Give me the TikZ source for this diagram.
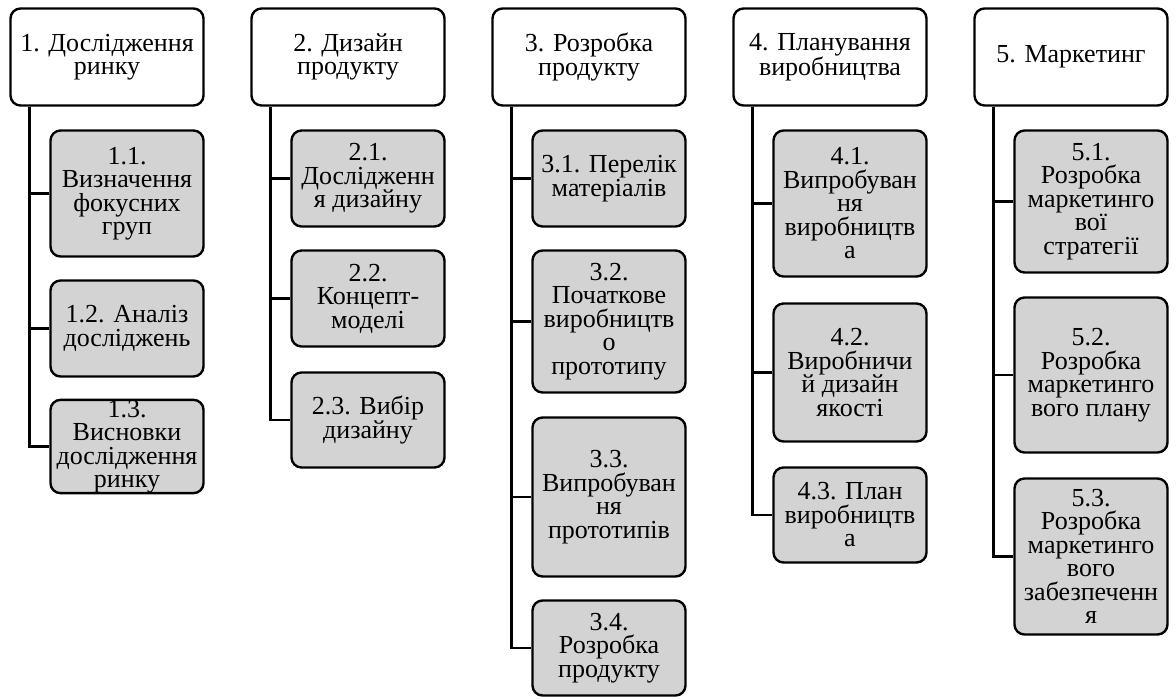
\documentclass[tikz,border=0pt]{standalone}
\usepackage{fontspec}
\setmainfont{Liberation Serif}
\usepackage{xcolor}
\definecolor{taskgray}{RGB}{211,211,211}
\tikzset{
	phase/.style={
			draw, line width=2.4pt, rounded corners=10pt, fill=white,
			minimum width=193pt, minimum height=97pt, inner sep=0pt,
			align=center, font=\fontsize{26}{23.5}\selectfont
		},
	task/.style={phase, fill=taskgray, minimum width=153pt},
	branch/.style={line width=2.4pt}
}

\begin{document}
\begin{tikzpicture}[x=1pt,y=-1pt]
			\useasboundingbox (0,0) rectangle (1176,699);
			
			% Top-level phases
			\node[phase] (p1) at (107,57) {1. Дослідження\\ринку};
			\node[phase] (p2) at (348,57) {2. Дизайн\\продукту};
			\node[phase] (p3) at (589,57) {3. Розробка\\продукту};
			\node[phase] (p4) at (830,57) {4. Планування\\виробництва};
			\node[phase] (p5) at (1071,57) {5. Маркетинг};
			
			% Tasks of phase 1
			\node[task, minimum height=126pt] (t11) at (127,193.5) {1.1.\\Визначення\\фокусних\\груп};
			\node[task, minimum height=96pt] (t12) at (127,328.5) {1.2. Аналіз\\досліджень};
			\node[task, minimum height=92pt] (t13) at (127,446.5) {1.3.\\Висновки\\дослідження\\ринку};
			
			% Tasks of phase 2
			\node[task, minimum height=96pt] (t21) at (368,178.5) {2.1.\\Дослідженн\\я дизайну};
			\node[task, minimum height=96pt] (t22) at (368,298.5) {2.2.\\Концепт-\\моделі};
			\node[task, minimum height=95pt] (t23) at (368,420) {2.3. Вибір\\дизайну};
			
			% Tasks of phase 3
			\node[task, minimum height=96pt] (t31) at (609,178.5) {3.1. Перелік\\матеріалів};
			\node[task, minimum height=142pt] (t32) at (609,321.5) {3.2.\\Початкове\\виробництв\\о\\прототипу};
			\node[task, minimum height=159pt] (t33) at (609,497) {3.3.\\Випробуван\\ня\\прототипів};
			\node[task, minimum height=95pt] (t34) at (609,648) {3.4.\\Розробка\\продукту};
			
			% Tasks of phase 4
			\node[task, minimum height=146pt] (t41) at (850,203.5) {4.1.\\Випробуван\\ня\\виробництв\\а};
			\node[task, minimum height=138pt] (t42) at (850,372.5) {4.2.\\Виробничи\\й дизайн\\якості};
			\node[task, minimum height=95pt] (t43) at (850,515) {4.3. План\\виробництв\\а};
			
			% Tasks of phase 5
			\node[task, minimum height=142pt] (t51) at (1091,201.5) {5.1.\\Розробка\\маркетинго\\вої\\стратегії};
			\node[task, minimum height=155pt] (t52) at (1091,375) {5.2.\\Розробка\\маркетинго\\вого плану};
			\node[task, minimum height=156pt] (t53) at (1091,556.5) {5.3.\\Розробка\\маркетинго\\вого\\забезпеченн\\я};
			
			% Branches from each phase to its tasks
			\draw[branch] ([xshift=20pt]p1.south west) |- (t11.west);
			\draw[branch] ([xshift=20pt]p1.south west) |- (t12.west);
			\draw[branch] ([xshift=20pt]p1.south west) |- (t13.west);
			
			\draw[branch] ([xshift=20pt]p2.south west) |- (t21.west);
			\draw[branch] ([xshift=20pt]p2.south west) |- (t22.west);
			\draw[branch] ([xshift=20pt]p2.south west) |- (t23.west);
			
			\draw[branch] ([xshift=20pt]p3.south west) |- (t31.west);
			\draw[branch] ([xshift=20pt]p3.south west) |- (t32.west);
			\draw[branch] ([xshift=20pt]p3.south west) |- (t33.west);
			\draw[branch] ([xshift=20pt]p3.south west) |- (t34.west);
			
			\draw[branch] ([xshift=20pt]p4.south west) |- (t41.west);
			\draw[branch] ([xshift=20pt]p4.south west) |- (t42.west);
			\draw[branch] ([xshift=20pt]p4.south west) |- (t43.west);
			
			\draw[branch] ([xshift=20pt]p5.south west) |- (t51.west);
			\draw[branch] ([xshift=20pt]p5.south west) |- (t52.west);
			\draw[branch] ([xshift=20pt]p5.south west) |- (t53.west);
			
		\end{tikzpicture}
\end{document}
